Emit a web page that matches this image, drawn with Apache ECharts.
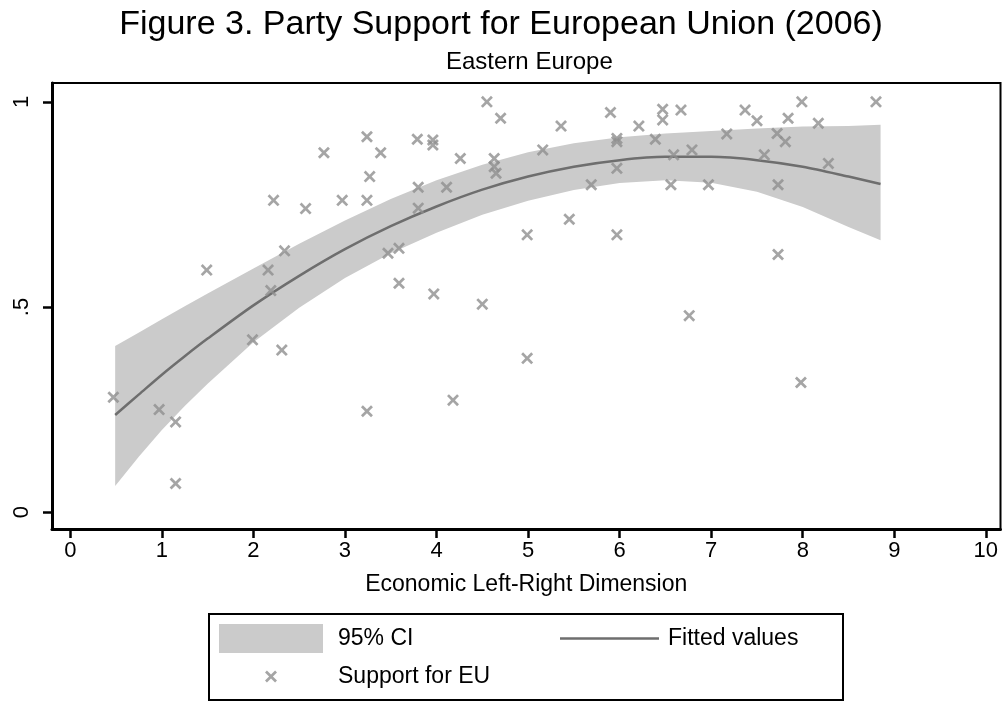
<!DOCTYPE html>
<html>
<head>
<meta charset="utf-8">
<script src="https://cdn.jsdelivr.net/npm/echarts@6/dist/echarts.min.js"></script>
<style>
  html, body { margin: 0; padding: 0; background: #fff; }
  #chart { width: 1002px; height: 702px; }
</style>
</head>
<body>
<div id="chart"></div>
<script>
// Party positions on the economic left-right scale and their support for the EU
var partyPosition = [
  0.47, 0.97, 1.15, 1.15, 1.49, 1.99, 2.16, 2.19, 2.22, 2.31, 2.34, 2.57, 2.77, 2.97,
  3.24, 3.24, 3.24, 3.27, 3.39, 3.47, 3.59, 3.59, 3.79, 3.80, 3.80, 3.96, 3.96, 3.97,
  4.11, 4.18, 4.26, 4.50, 4.55, 4.63, 4.63, 4.65, 4.70, 4.99, 4.99, 5.16, 5.36, 5.45,
  5.69, 5.90, 5.97, 5.97, 5.97, 5.97, 6.21, 6.39, 6.47, 6.47, 6.56, 6.59, 6.67, 6.76,
  6.79, 6.97, 7.17, 7.37, 7.50, 7.58, 7.72, 7.73, 7.73, 7.81, 7.84, 7.98, 7.99, 8.17,
  8.28, 8.80
];
var euSupport = [
  0.28, 0.25, 0.22, 0.07, 0.59, 0.42, 0.59, 0.54, 0.76, 0.395, 0.637, 0.74, 0.876, 0.76,
  0.915, 0.76, 0.246, 0.818, 0.876, 0.631, 0.643, 0.558, 0.909, 0.792, 0.741, 0.907, 0.895, 0.532,
  0.792, 0.273, 0.862, 0.507, 1.0, 0.862, 0.842, 0.826, 0.96, 0.676, 0.375, 0.883, 0.941, 0.714,
  0.798, 0.974, 0.911, 0.903, 0.838, 0.676, 0.941, 0.909, 0.982, 0.956, 0.798, 0.871, 0.98, 0.479,
  0.883, 0.798, 0.922, 0.98, 0.954, 0.871, 0.923, 0.798, 0.628, 0.903, 0.96, 0.316, 1.0, 0.948,
  0.85, 1.0
];

// Quadratic fit and its 95% confidence band, sampled along the x range
var fitX     = [0.49, 0.75, 1.0, 1.25, 1.5, 2.0, 2.5, 3.0, 3.5, 4.0, 4.5, 5.0, 5.5, 6.0, 6.5, 7.0, 7.5, 8.0, 8.5, 8.85];
var fitValue = [0.237, 0.287, 0.335, 0.380, 0.423, 0.504, 0.576, 0.641, 0.697, 0.745, 0.786, 0.818, 0.842, 0.858, 0.866, 0.866, 0.858, 0.842, 0.818, 0.800];
var ciUpper  = [0.405, 0.438, 0.470, 0.502, 0.533, 0.594, 0.654, 0.711, 0.763, 0.809, 0.847, 0.877, 0.899, 0.914, 0.923, 0.929, 0.935, 0.940, 0.941, 0.944];
var ciLower  = [0.064, 0.136, 0.200, 0.259, 0.313, 0.414, 0.498, 0.571, 0.631, 0.681, 0.725, 0.759, 0.785, 0.802, 0.809, 0.803, 0.781, 0.744, 0.695, 0.663];

// Axis ticks and labels
var xTicks = [0, 1, 2, 3, 4, 5, 6, 7, 8, 9, 10];
var yTicks = [0, 0.5, 1];
var yTickLabels = ['0', '.5', '1'];

var titleText = 'Figure 3. Party Support for European Union (2006)';
var subtitleText = 'Eastern Europe';
var xAxisTitle = 'Economic Left-Right Dimension';
var seriesNames = ['95% CI', 'Fitted values', 'Support for EU'];

var FONT = '"Liberation Sans", Arial, Helvetica, sans-serif';
var CROSS = 'path://M0,1.6L1.6,0L5,3.4L8.4,0L10,1.6L6.6,5L10,8.4L8.4,10L5,6.6L1.6,10L0,8.4L3.4,5Z';
var FIT_COLOR = '#6e6e6e';
var BAND_COLOR = '#cbcbcb';
var POINT_COLOR = '#8e8e8e';

var scatterData = partyPosition.map(function (x, i) { return [x, euSupport[i]]; });
var fitData = fitX.map(function (x, i) { return [x, fitValue[i]]; });
var bandData = fitX.map(function (x, i) { return [x, ciUpper[i], ciLower[i]]; });

var chart = echarts.init(document.getElementById('chart'), null, { renderer: 'canvas' });

chart.setOption({
  backgroundColor: '#ffffff',
  animation: false,
  textStyle: { fontFamily: FONT, color: '#000' },
  title: {
    text: titleText,
    left: 'center',
    top: 3,
    textStyle: { fontFamily: FONT, fontSize: 34, fontWeight: 'normal', color: '#000' }
  },
  grid: {
    left: 52, top: 83, right: 1.5, bottom: 173,
    show: true, borderColor: '#000', borderWidth: 2, backgroundColor: '#fff'
  },
  xAxis: {
    type: 'value',
    min: -0.2, max: 10.16,
    name: xAxisTitle,
    nameLocation: 'middle',
    nameGap: 44,
    nameTextStyle: { fontFamily: FONT, fontSize: 23, color: '#000' },
    axisLine: { show: true, onZero: false, lineStyle: { color: '#000', width: 3 } },
    axisTick: { show: true, customValues: xTicks, length: 9, lineStyle: { color: '#000', width: 2.5 } },
    axisLabel: { customValues: xTicks, fontFamily: FONT, fontSize: 22, color: '#000', margin: 11 },
    splitLine: { show: false }
  },
  yAxis: {
    type: 'value',
    min: -0.041, max: 1.046,
    axisLine: { show: true, onZero: false, lineStyle: { color: '#000', width: 3 } },
    axisTick: { show: true, customValues: yTicks, length: 9, lineStyle: { color: '#000', width: 2.5 } },
    axisLabel: {
      customValues: yTicks,
      rotate: 90,
      margin: 19,
      fontFamily: FONT, fontSize: 22, color: '#000',
      formatter: function (v) {
        var i = yTicks.indexOf(v);
        return i >= 0 ? yTickLabels[i] : '';
      }
    },
    splitLine: { show: false }
  },
  legend: [
    {
      data: [{ name: seriesNames[0], icon: 'rect' }],
      left: 219, top: 624, padding: 0,
      itemWidth: 104, itemHeight: 29,
      selectedMode: false,
      textStyle: { fontFamily: FONT, fontSize: 23, color: '#000', padding: [0, 0, 0, 10] }
    },
    {
      data: [{ name: seriesNames[1], icon: 'rect' }],
      left: 560, top: 627, padding: 0,
      itemWidth: 99, itemHeight: 2.5,
      selectedMode: false,
      itemStyle: { color: FIT_COLOR },
      textStyle: { fontFamily: FONT, fontSize: 23, color: '#000', padding: [0, 0, 0, 4] }
    },
    {
      data: [{ name: seriesNames[2], icon: CROSS }],
      left: 265, top: 665, padding: 0,
      itemWidth: 12, itemHeight: 12,
      selectedMode: false,
      textStyle: { fontFamily: FONT, fontSize: 23, color: '#000', padding: [0, 0, 0, 56] }
    }
  ],
  graphic: [
    {
      type: 'text',
      left: 526 - 80, top: 50,
      style: { text: subtitleText, font: '24px ' + FONT, fill: '#000', width: 160, align: 'center' }
    },
    {
      type: 'rect',
      shape: { x: 209, y: 614, width: 634, height: 86 },
      style: { fill: 'none', stroke: '#000', lineWidth: 2 },
      silent: true,
      z: 0
    }
  ],
  series: [
    {
      name: seriesNames[0],
      type: 'custom',
      z: 1,
      itemStyle: { color: BAND_COLOR },
      data: bandData,
      encode: { x: 0, y: [1, 2] },
      renderItem: function (params, api) {
        if (params.dataIndex !== 0) return null;
        var pts = [];
        for (var i = 0; i < bandData.length; i++) pts.push(api.coord([bandData[i][0], bandData[i][1]]));
        for (var j = bandData.length - 1; j >= 0; j--) pts.push(api.coord([bandData[j][0], bandData[j][2]]));
        return {
          type: 'polygon',
          shape: { points: pts },
          style: { fill: BAND_COLOR }
        };
      }
    },
    {
      name: seriesNames[1],
      type: 'line',
      z: 2,
      data: fitData,
      smooth: 0.3,
      symbol: 'none',
      showSymbol: false,
      itemStyle: { color: FIT_COLOR },
      lineStyle: { color: FIT_COLOR, width: 2.5 }
    },
    {
      name: seriesNames[2],
      type: 'scatter',
      z: 3,
      data: scatterData,
      symbol: CROSS,
      symbolSize: 12,
      itemStyle: { color: POINT_COLOR }
    }
  ]
});
</script>
</body>
</html>
